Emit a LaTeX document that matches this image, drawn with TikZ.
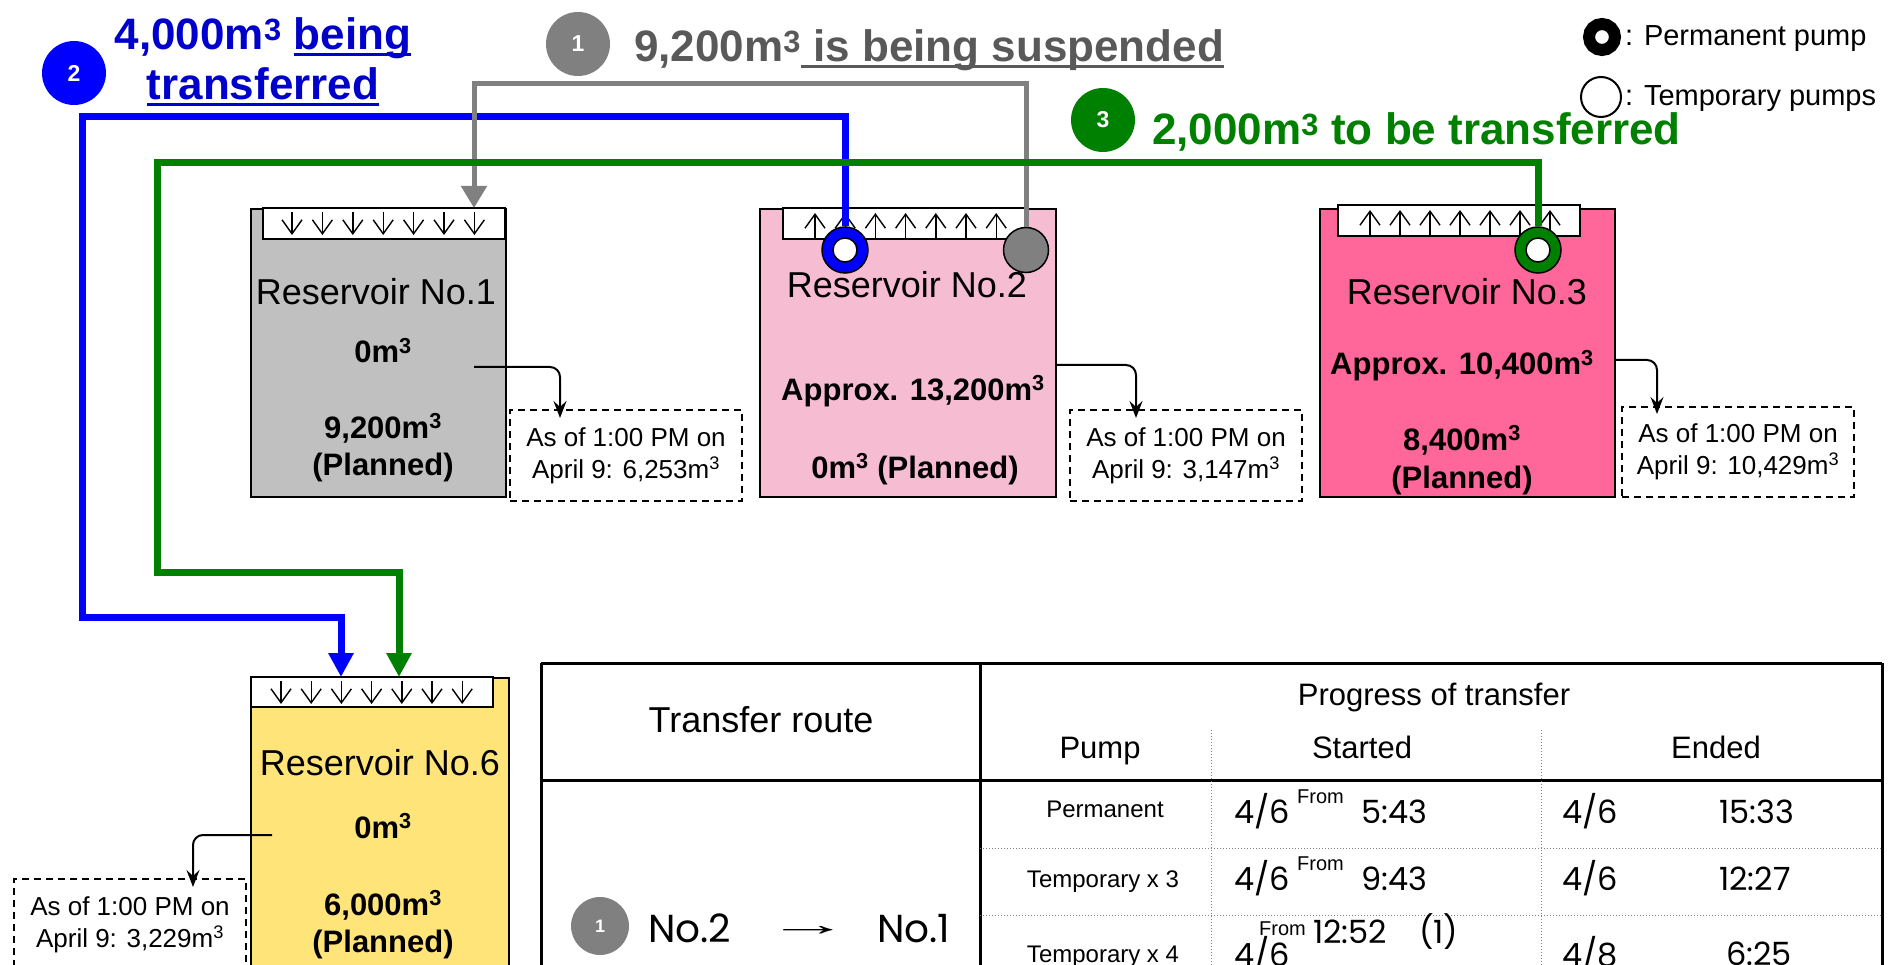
\documentclass[tikz,border=0pt]{standalone}
\usepackage{fontspec}
\setmainfont{Liberation Sans}
\newfontfamily\gothic{Poppins}
\usetikzlibrary{arrows.meta, positioning}

\definecolor{resgray}{HTML}{C0C0C0}
\definecolor{respink}{HTML}{F6BCD2}
\definecolor{reshot}{HTML}{FF6699}
\definecolor{resyellow}{HTML}{FFE47A}
\definecolor{pipeblue}{HTML}{0000FF}
\definecolor{pipegreen}{HTML}{008000}
\definecolor{pipegray}{HTML}{808080}
\definecolor{titleblue}{HTML}{0000CC}
\definecolor{titlegray}{HTML}{595959}

\newcommand{\fsz}[2]{\fontsize{#1}{#2}\selectfont}
\newcommand{\mcu}{m\textsuperscript{3}}
\newsavebox{\ulbox}
\newcommand{\uln}[1]{\sbox{\ulbox}{#1}\rlap{\rule[-6pt]{\wd\ulbox}{2.5pt}}\usebox{\ulbox}}

\tikzset{
  tank/.style={draw=black, line width=2, rectangle, inner sep=0, anchor=north west},
  strip/.style={draw=black, fill=white, line width=2},
  inarrow/.style={line width=1.4, -{Straight Barb[length=14, width=20]}},
  pipe/.style={line width=7, draw=#1, line join=miter},
  bigtip/.style={-{Triangle[length=24, width=24]}},
  permpump/.style={circle, draw=black, line width=1.5, fill=#1, minimum size=46, inner sep=0},
  pumphole/.style={circle, draw=black, line width=1.5, fill=white, minimum size=24, inner sep=0},
  badge/.style={circle, fill=#1, text=white, minimum size=64, inner sep=0, font={\fsz{23}{23}\bfseries}},
  headline/.style={anchor=base west, inner sep=0, font={\fsz{44}{50}\bfseries}},
  resname/.style={anchor=base, inner sep=0, font={\fsz{36}{40}}},
  resvol/.style={anchor=base, inner sep=0, font={\fsz{31}{36}\bfseries}},
  note/.style={draw=black, dash pattern=on 7pt off 5pt, line width=2, anchor=north west,
    minimum width=232, minimum height=91, align=center, inner sep=0, font={\fsz{26}{32}}},
  noteline/.style={line width=2, rounded corners=10, -{Stealth[length=17, width=13, inset=6]}},
  keytext/.style={anchor=base west, inner sep=0, font={\fsz{29}{34}}},
  tabline/.style={line width=3},
  tabdot/.style={line width=1, dotted, gray},
  tabhead/.style={anchor=base, inner sep=0, font={\fsz{31}{36}}},
  tabpump/.style={anchor=base, inner sep=0, font={\fsz{24}{28}}},
  tabtime/.style={anchor=base west, inner sep=0, font={\gothic\fsz{32}{36}}},
  tabfrom/.style={anchor=base west, inner sep=0, font={\fsz{20}{24}}},
}

\begin{document}
\begin{tikzpicture}[x=1pt, y=-1pt]
  \useasboundingbox (0,0) rectangle (1890,965);

  % reservoirs
  \node[tank, fill=resgray, minimum width=255, minimum height=288] (res1) at (250,208) {};
  \node[tank, fill=respink, minimum width=296, minimum height=288] (res2) at (759,208) {};
  \node[tank, fill=reshot, minimum width=295, minimum height=288] (res3) at (1319,208) {};
  \node[tank, fill=resyellow, minimum width=258, minimum height=320] (res6) at (250,677) {};

  % inlet strips
  \draw[strip] (263,208) rectangle (505,239);
  \draw[strip] (783,208) rectangle (1028,239);
  \draw[strip] (1338,205) rectangle (1580,236);
  \draw[strip] (251,677) rectangle (493,707);
  \foreach \k in {0,...,6} {
    \draw[inarrow] ({292+30.4*\k},212) -- ({292+30.4*\k},235);
    \draw[inarrow] ({815+30.2*\k},239) -- ({815+30.2*\k},213);
    \draw[inarrow] ({1370+30*\k},236) -- ({1370+30*\k},210);
    \draw[inarrow] ({281+30.2*\k},681) -- ({281+30.2*\k},704);
  }

  % pumps
  \node[permpump=pipeblue] (pumpB) at (845,250) {};
  \node[pumphole] (holeB) at (pumpB) {};
  \node[permpump=pipegray, minimum size=45] (pumpG) at (1026,250) {};
  \node[permpump=pipegreen] (pumpE) at (1538,250) {};
  \node[pumphole] (holeE) at (pumpE) {};

  % transfer routes
  \coordinate (blueA) at (82,117);
  \coordinate (blueB) at (341,617);
  \coordinate (in6b) at (341,677);
  \coordinate (grayA) at (474,84);
  \coordinate (in1) at (474,208);
  \coordinate (greenA) at (157,163);
  \coordinate (greenB) at (399,572);
  \coordinate (in6g) at (399,677);
  \draw[pipe=pipeblue, bigtip] (pumpB.north) |- (blueA) |- (blueB) -- (in6b);
  \draw[pipe=pipegray, line width=5, -{Triangle[length=22, width=25]}] (pumpG.north) |- (grayA) -- (in1);
  \draw[pipe=pipegreen, bigtip] (pumpE.north) |- (greenA) |- (greenB) -- (in6g);

  % route titles
  \node[badge=pipeblue] (badge2) at (74,73) {2};
  \node[headline, anchor=base, text=titleblue] (title2a) at (263,50) {4,000\mcu{} \uln{being}};
  \node[headline, anchor=base, text=titleblue] (title2b) at (263,100) {\uln{transferred}};
  \node[badge=pipegray] (badge1) at (578,44) {1};
  \node[headline, text=titlegray] (title1) at (634,62) {9,200\mcu{}\uln{\ is being suspended}};
  \node[badge=pipegreen] (badge3) at (1103,120) {3};
  \node[headline, text=pipegreen] (title3) at (1152,145) {2,000\mcu{} to be transferred};

  % legend
  \node[circle, draw=black, line width=12, minimum size=26, inner sep=0] (keyperm) at (1602,37) {};
  \node[keytext] (keypermtext) at (1625,46) {: Permanent pump};
  \node[circle, draw=black, line width=2, minimum size=40, inner sep=0] (keytemp) at (1601,97) {};
  \node[keytext] (keytemptext) at (1625,106) {: Temporary pumps};

  % reservoir texts
  \node[resname] (name1) at (376,305) {Reservoir No.1};
  \node[resvol] (now1) at (383,363) {0\mcu};
  \node[resvol] (plan1a) at (383,438) {9,200\mcu};
  \node[resvol] (plan1b) at (383,475) {(Planned)};

  \node[resname] (name2) at (907,298) {Reservoir No.2};
  \node[resvol] (now2) at (913,400) {Approx. 13,200\mcu};
  \node[resvol] (plan2) at (915,478) {0\mcu{} (Planned)};

  \node[resname] (name3) at (1467,305) {Reservoir No.3};
  \node[resvol] (now3) at (1462,375) {Approx. 10,400\mcu};
  \node[resvol] (plan3a) at (1462,450) {8,400\mcu};
  \node[resvol] (plan3b) at (1462,488) {(Planned)};

  \node[resname] (name6) at (380,775) {Reservoir No.6};
  \node[resvol] (now6) at (383,838) {0\mcu};
  \node[resvol] (plan6a) at (383,915) {6,000\mcu};
  \node[resvol] (plan6b) at (383,952) {(Planned)};

  % status at 1 PM
  \node[note] (note1) at (509,409) {As of 1:00 PM on\\April 9: 6,253\mcu};
  \node[note] (note2) at (1069,409) {As of 1:00 PM on\\April 9: 3,147\mcu};
  \node[note, minimum height=90] (note3) at (1621,406) {As of 1:00 PM on\\April 9: 10,429\mcu};
  \node[note] (note6) at (13,878) {As of 1:00 PM on\\April 9: 3,229\mcu};
  \coordinate (from1) at (474,367);
  \coordinate (to1) at (560,418);
  \coordinate (from2) at (1055,365);
  \coordinate (to2) at (1136,418);
  \coordinate (from3) at (1614,360);
  \coordinate (to3) at (1657,414);
  \coordinate (from6) at (272,835);
  \coordinate (to6) at (193,887);
  \draw[noteline] (from1) -| (to1);
  \draw[noteline] (from2) -| (to2);
  \draw[noteline] (from3) -| (to3);
  \draw[noteline] (from6) -| (to6);

  % progress table
  \draw[tabline] (541,663) -- (1882,663);
  \draw[tabline] (541,780) -- (1882,780);
  \draw[tabline] (541,663) -- (541,975);
  \draw[tabline] (980,663) -- (980,975);
  \draw[tabline] (1882,663) -- (1882,975);
  \draw[tabdot] (1211,730) -- (1211,975);
  \draw[tabdot] (1541,730) -- (1541,975);
  \draw[tabdot] (980,848) -- (1882,848);
  \draw[tabdot] (980,915) -- (1882,915);

  \node[tabhead, font={\fsz{36}{40}}] (routehead) at (761,732) {Transfer route};
  \node[tabhead] (proghead) at (1434,705) {Progress of transfer};
  \node[tabhead] (pumphead) at (1100,758) {Pump};
  \node[tabhead] (starthead) at (1362,758) {Started};
  \node[tabhead] (endhead) at (1716,758) {Ended};
  \node[tabpump] (pumprow1) at (1105,817) {Permanent};
  \node[tabpump] (pumprow2) at (1103,887) {Temporary x 3};
  \node[tabpump] (pumprow3) at (1103,962) {Temporary x 4};

  \foreach \y/\st/\en [count=\r] in {823/5:43/15:33, 890/9:43/12:27} {
    \node[tabtime] (sday\r) at (1234,\y) {4/6};
    \node[tabfrom] (sfrom\r) at (1297,\y-20) {From};
    \node[tabtime] (stime\r) at (1361,\y) {\st};
    \node[tabtime] (eday\r) at (1562,\y) {4/6};
    \node[tabtime] (etime\r) at (1719,\y) {\en};
  }
  \node[tabfrom] (sfrom3) at (1259,935) {From};
  \node[tabtime] (stime3) at (1313,943) {12:52\quad(1)};
  \node[tabtime] (sday3) at (1234,966) {4/6};
  \node[tabtime] (eday3) at (1562,966) {4/8};
  \node[tabtime] (etime3) at (1726,965) {6:25};

  \node[badge=pipegray, minimum size=58, font={\fsz{18}{18}\bfseries}] (badge1t) at (600,926) {1};
  \node[anchor=base west, inner sep=0, font={\gothic\fsz{39}{44}}] (route2t) at (648,942) {No.2};
  \node[anchor=base, inner sep=0, font={\fsz{32}{36}}] (routearrow) at (808,935) {\scalebox{2.6}[1]{→}};
  \node[anchor=base west, inner sep=0, font={\gothic\fsz{39}{44}}] (route1t) at (877,942) {No.1};
\end{tikzpicture}
\end{document}
